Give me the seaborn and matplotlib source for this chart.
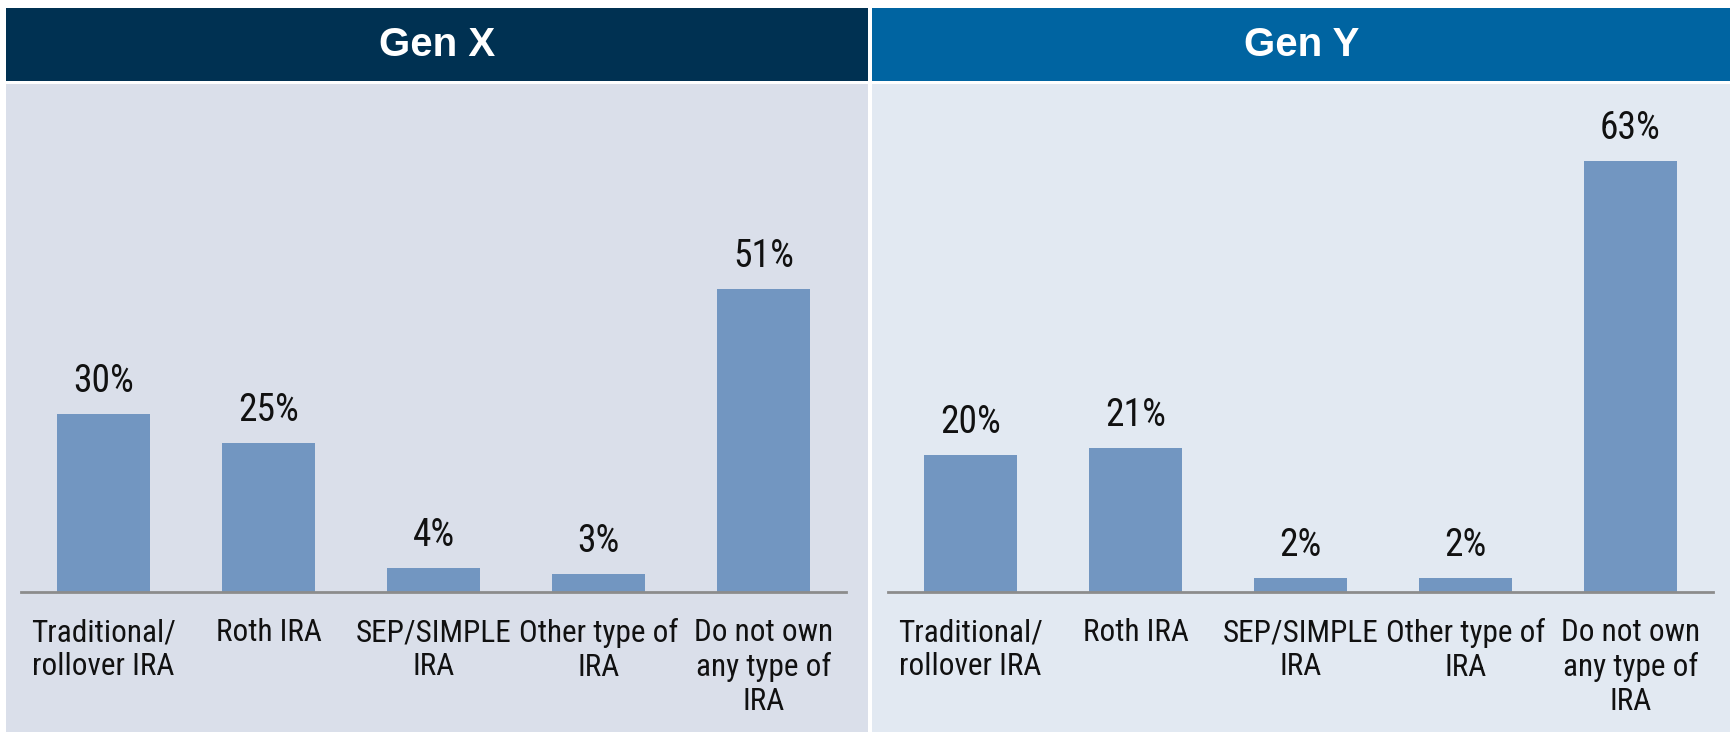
import matplotlib
matplotlib.use("Agg")
import matplotlib.pyplot as plt
from matplotlib.patches import Rectangle
from matplotlib import font_manager
import seaborn as sns
import pandas as pd

# Survey data: share of respondents owning each IRA type
categories = ["Traditional/\nrollover IRA", "Roth IRA", "SEP/SIMPLE\nIRA",
              "Other type of\nIRA", "Do not own\nany type of\nIRA"]
gen_x = [30, 25, 4, 3, 51]
gen_y = [20, 21, 2, 2, 63]
panel_titles = ["Gen X", "Gen Y"]

sns.set_theme(style="white")
available = {f.name for f in font_manager.fontManager.ttflist}
narrow_candidates = ["Liberation Sans Narrow", "DejaVu Sans Condensed",
                     "Roboto Condensed", "Open Sans Condensed", "Liberation Sans"]
narrow = next(n for n in narrow_candidates if n in available)
plt.rcParams["font.family"] = [narrow, "DejaVu Sans"]

W, H = 1731, 732
fig = plt.figure(figsize=(W / 100, H / 100), dpi=100)
fig.patch.set_facecolor("white")

BAR = "#7296c1"
AXIS = "#8c8c8c"
panels = [
    dict(x0=6, x1=868, head="#003152", bg="#dadfea", ax=(21, 846), ylim=82.7),
    dict(x0=872, x1=1731, head="#0064a1", bg="#e2e9f2", ax=(888, 1713), ylim=71.9),
]
HEAD_TOP, HEAD_BOT, BG_TOP = 8, 81, 84
AX_TOP, AX_BOT = 100, 592


def fx(px):
    return px / W


def fy(py):
    return 1 - py / H


for p, title, vals in zip(panels, panel_titles, [gen_x, gen_y]):
    # header band and panel background, kept behind the axes
    fig.patches.append(Rectangle((fx(p["x0"]), fy(HEAD_BOT)), fx(p["x1"] - p["x0"]),
                                 (HEAD_BOT - HEAD_TOP) / H, transform=fig.transFigure,
                                 facecolor=p["head"], edgecolor="none", zorder=-10))
    fig.patches.append(Rectangle((fx(p["x0"]), 0), fx(p["x1"] - p["x0"]),
                                 (H - BG_TOP) / H, transform=fig.transFigure,
                                 facecolor=p["bg"], edgecolor="none", zorder=-10))
    fig.text(fx((p["x0"] + p["x1"]) / 2), fy((HEAD_TOP + HEAD_BOT) / 2 + 1), title,
             ha="center", va="center", color="white", fontsize=29,
             fontweight="bold", family=["Liberation Sans", "DejaVu Sans"])

    a0, a1 = p["ax"]
    ax = fig.add_axes([fx(a0), fy(AX_BOT), fx(a1 - a0), (AX_BOT - AX_TOP) / H])
    ax.set_facecolor("none")
    df = pd.DataFrame({"category": categories, "share": vals})
    sns.barplot(data=df, x="category", y="share", color=BAR, saturation=1,
                width=0.56, linewidth=0, ax=ax)
    ax.set_xlim(-0.5, len(categories) - 0.5)
    ax.set_ylim(0, p["ylim"])
    for bar, v in zip(ax.patches, vals):
        ax.annotate(f"{v}%", (bar.get_x() + bar.get_width() / 2, bar.get_height()),
                    xytext=(0, 14), textcoords="offset pixels", ha="center",
                    va="bottom", fontsize=27, color="#111111")
    for side in ["top", "right", "left"]:
        ax.spines[side].set_visible(False)
    ax.spines["bottom"].set_color(AXIS)
    ax.spines["bottom"].set_linewidth(2)
    ax.set_yticks([])
    ax.set_xlabel("")
    ax.set_ylabel("")
    ax.tick_params(axis="x", length=0, pad=19, labelsize=22.5, labelcolor="#111111")
    for lbl in ax.get_xticklabels():
        lbl.set_linespacing(1.2)

fig.savefig("out.png", dpi=100, facecolor="white")
